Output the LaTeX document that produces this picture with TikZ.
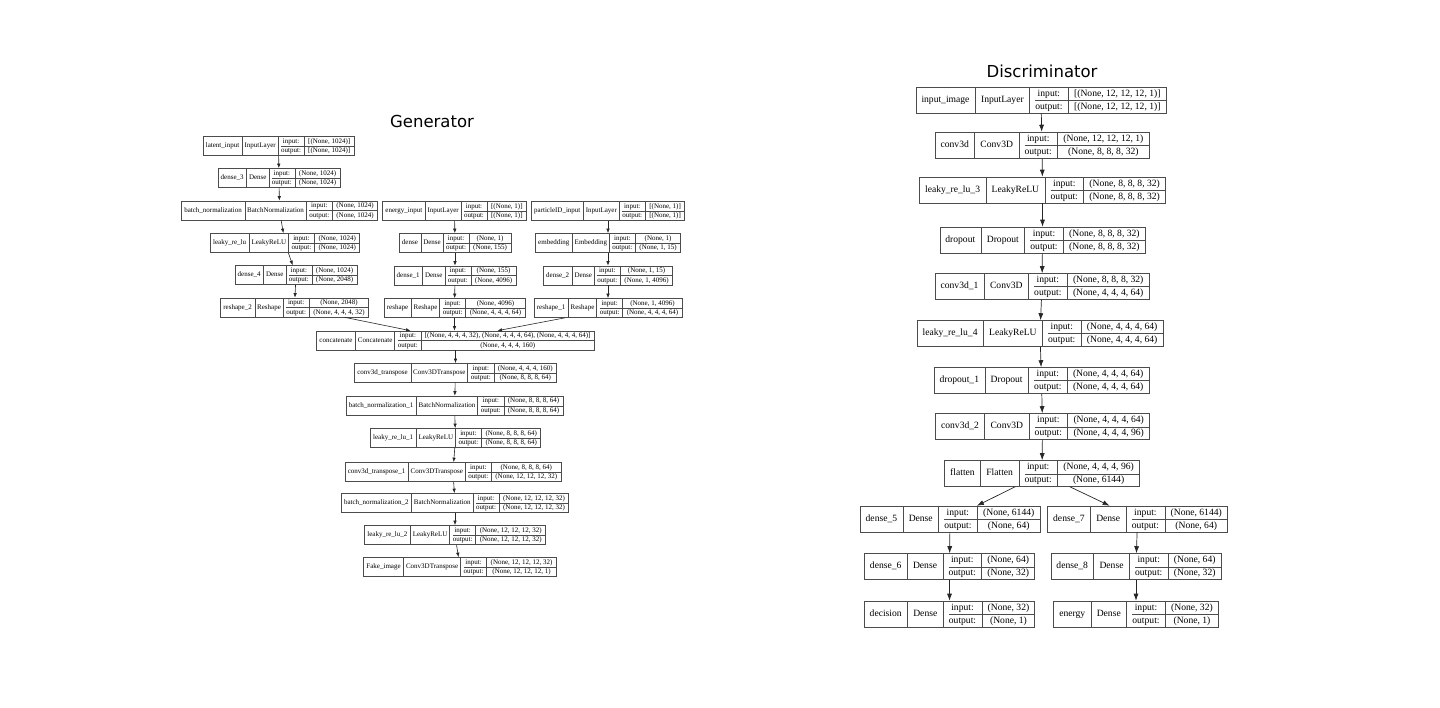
\documentclass[tikz,border=0pt]{standalone}
\usepackage{fontspec}
\setmainfont{Liberation Serif}
\newfontfamily\titlefont{DejaVu Sans}
\usepackage{multirow}
\usepackage{colortbl}
\usepackage{tikz}
\usetikzlibrary{arrows.meta}
\usetikzlibrary{calc}

\newlength{\padn}
\newlength{\padc}
\newlength{\padi}
\newlength{\pads}
% one keras layer: name | class | input:/output: | shapes
\newcommand{\layerbox}[4]{%
  \begin{tabular}{@{\hspace{\padn}}c@{\hspace{\padn}}|@{\hspace{\padc}}c@{\hspace{\padc}}|@{\hspace{\padi}}c@{\hspace{\padi}}|@{\hspace{\pads}}c@{\hspace{\pads}}}
    \multirow{2}{*}{#1} & \multirow{2}{*}{#2} & input: & #3 \\ \cline{3-4}
    & & output: & #4
  \end{tabular}}
\newcommand{\gsize}{\fontsize{7}{8}\selectfont\setlength{\padn}{2.8pt}\setlength{\padc}{2pt}\setlength{\padi}{2.8pt}\setlength{\pads}{3.8pt}\renewcommand{\arraystretch}{1.19}}
\newcommand{\dsize}{\fontsize{9.6}{11}\selectfont\setlength{\padn}{5.5pt}\setlength{\padc}{5.5pt}\setlength{\padi}{5.5pt}\setlength{\pads}{5.5pt}\renewcommand{\arraystretch}{1.18}}

\tikzset{
  glayer/.style={draw=black!70, line width=0.6pt, inner sep=0pt, font=\gsize},
  dlayer/.style={draw=black!70, line width=0.6pt, inner sep=0pt, font=\dsize},
  garr/.style={-{Latex[length=4.5pt,width=3.5pt]}, draw=black!85, line width=0.6pt},
  darr/.style={-{Latex[length=7pt,width=5pt]}, draw=black!85, line width=0.7pt},
}

\begin{document}
\begin{tikzpicture}[x=1pt, y=-1pt]
        \useasboundingbox (0, 0) rectangle (1440, 708);
        \arrayrulecolor{black!70}
        \setlength{\arrayrulewidth}{0.6pt}
        \node [font=\titlefont\fontsize{16.5}{18}\selectfont] (gtitle) at (432, 121) {Generator};
        \node [font=\titlefont\fontsize{16.5}{18}\selectfont] (dtitle) at (1042, 71) {Discriminator};

        % generator, left column
        \node [glayer] (latentin) at (278.5, 146) {\layerbox{latent\_input}{InputLayer}{[(None, 1024)]}{[(None, 1024)]}};
        \node [glayer] (dense3) at (279, 178) {\layerbox{dense\_3}{Dense}{(None, 1024)}{(None, 1024)}};
        \node [glayer] (bnorm) at (279.5, 210.5) {\layerbox{batch\_normalization}{BatchNormalization}{(None, 1024)}{(None, 1024)}};
        \node [glayer] (lrelu) at (285, 243) {\layerbox{leaky\_re\_lu}{LeakyReLU}{(None, 1024)}{(None, 1024)}};
        \node [glayer] (dense4) at (296, 275) {\layerbox{dense\_4}{Dense}{(None, 1024)}{(None, 2048)}};
        \node [glayer] (reshape2) at (294.5, 307.5) {\layerbox{reshape\_2}{Reshape}{(None, 2048)}{(None, 4, 4, 4, 32)}};
        % generator, energy column
        \node [glayer] (energyin) at (454.5, 211) {\layerbox{energy\_input}{InputLayer}{[(None, 1)]}{[(None, 1)]}};
        \node [glayer] (dense0) at (455, 243) {\layerbox{dense}{Dense}{(None, 1)}{(None, 155)}};
        \node [glayer] (dense1) at (455, 275.5) {\layerbox{dense\_1}{Dense}{(None, 155)}{(None, 4096)}};
        \node [glayer] (reshape0) at (454.5, 308) {\layerbox{reshape}{Reshape}{(None, 4096)}{(None, 4, 4, 4, 64)}};
        % generator, particle column
        \node [glayer] (particlein) at (608, 211) {\layerbox{particleID\_input}{InputLayer}{[(None, 1)]}{[(None, 1)]}};
        \node [glayer] (embed) at (608, 243) {\layerbox{embedding}{Embedding}{(None, 1)}{(None, 1, 15)}};
        \node [glayer] (dense2) at (608, 275.5) {\layerbox{dense\_2}{Dense}{(None, 1, 15)}{(None, 1, 4096)}};
        \node [glayer] (reshape1) at (608, 308) {\layerbox{reshape\_1}{Reshape}{(None, 1, 4096)}{(None, 4, 4, 4, 64)}};
        % generator, trunk
        \node [glayer] (concat) at (455.5, 340.5) {\layerbox{concatenate}{Concatenate}{[(None, 4, 4, 4, 32), (None, 4, 4, 4, 64), (None, 4, 4, 4, 64)]}{(None, 4, 4, 4, 160)}};
        \node [glayer] (convt0) at (455.5, 373) {\layerbox{conv3d\_transpose}{Conv3DTranspose}{(None, 4, 4, 4, 160)}{(None, 8, 8, 8, 64)}};
        \node [glayer] (bnorm1) at (454.5, 405.5) {\layerbox{batch\_normalization\_1}{BatchNormalization}{(None, 8, 8, 8, 64)}{(None, 8, 8, 8, 64)}};
        \node [glayer] (lrelu1) at (455.5, 438) {\layerbox{leaky\_re\_lu\_1}{LeakyReLU}{(None, 8, 8, 8, 64)}{(None, 8, 8, 8, 64)}};
        \node [glayer] (convt1) at (453, 472) {\layerbox{conv3d\_transpose\_1}{Conv3DTranspose}{(None, 8, 8, 8, 64)}{(None, 12, 12, 12, 32)}};
        \node [glayer] (bnorm2) at (455, 503) {\layerbox{batch\_normalization\_2}{BatchNormalization}{(None, 12, 12, 12, 32)}{(None, 12, 12, 12, 32)}};
        \node [glayer] (lrelu2) at (455, 535) {\layerbox{leaky\_re\_lu\_2}{LeakyReLU}{(None, 12, 12, 12, 32)}{(None, 12, 12, 12, 32)}};
        \node [glayer] (fake) at (460, 567) {\layerbox{Fake\_image}{Conv3DTranspose}{(None, 12, 12, 12, 32)}{(None, 12, 12, 12, 1)}};

        \draw [garr] (latentin) -- (dense3);
        \draw [garr] (dense3) -- (bnorm);
        \draw [garr] (bnorm) -- (lrelu);
        \draw [garr] (lrelu) -- (dense4);
        \draw [garr] (dense4) -- (reshape2);
        \draw [garr] (energyin) -- (dense0);
        \draw [garr] (dense0) -- (dense1);
        \draw [garr] (dense1) -- (reshape0);
        \draw [garr] (particlein) -- (embed);
        \draw [garr] (embed) -- (dense2);
        \draw [garr] (dense2) -- (reshape1);
        \draw [garr] ([xshift=50pt]reshape2.south) -- ([xshift=-45pt]concat.north);
        \draw [garr] (reshape0) -- (reshape0 |- concat.north);
        \draw [garr] ([xshift=-43pt]reshape1.south) -- ([xshift=42pt]concat.north);
        \draw [garr] (concat) -- (convt0);
        \draw [garr] (convt0) -- (bnorm1);
        \draw [garr] (bnorm1) -- (lrelu1);
        \draw [garr] (lrelu1) -- (convt1);
        \draw [garr] (convt1) -- (bnorm2);
        \draw [garr] (bnorm2) -- (lrelu2);
        \draw [garr] (lrelu2) -- (fake);

        % discriminator
        \node [dlayer] (image) at (1041, 100) {\layerbox{input\_image}{InputLayer}{[(None, 12, 12, 12, 1)]}{[(None, 12, 12, 12, 1)]}};
        \node [dlayer] (conv0) at (1042, 145) {\layerbox{conv3d}{Conv3D}{(None, 12, 12, 12, 1)}{(None, 8, 8, 8, 32)}};
        \node [dlayer] (lrelu3) at (1042.5, 190) {\layerbox{leaky\_re\_lu\_3}{LeakyReLU}{(None, 8, 8, 8, 32)}{(None, 8, 8, 8, 32)}};
        \node [dlayer] (drop0) at (1042.5, 240) {\layerbox{dropout}{Dropout}{(None, 8, 8, 8, 32)}{(None, 8, 8, 8, 32)}};
        \node [dlayer] (conv1) at (1042, 286.5) {\layerbox{conv3d\_1}{Conv3D}{(None, 8, 8, 8, 32)}{(None, 4, 4, 4, 64)}};
        \node [dlayer] (lrelu4) at (1040, 333.5) {\layerbox{leaky\_re\_lu\_4}{LeakyReLU}{(None, 4, 4, 4, 64)}{(None, 4, 4, 4, 64)}};
        \node [dlayer] (drop1) at (1041.5, 380.5) {\layerbox{dropout\_1}{Dropout}{(None, 4, 4, 4, 64)}{(None, 4, 4, 4, 64)}};
        \node [dlayer] (conv2) at (1042.5, 426.5) {\layerbox{conv3d\_2}{Conv3D}{(None, 4, 4, 4, 64)}{(None, 4, 4, 4, 96)}};
        \node [dlayer] (flat) at (1042, 473.5) {\layerbox{flatten}{Flatten}{(None, 4, 4, 4, 96)}{(None, 6144)}};
        \node [dlayer] (dense5) at (950, 519) {\layerbox{dense\_5}{Dense}{(None, 6144)}{(None, 64)}};
        \node [dlayer] (dense7) at (1137.5, 519) {\layerbox{dense\_7}{Dense}{(None, 6144)}{(None, 64)}};
        \node [dlayer] (dense6) at (949.5, 566.5) {\layerbox{dense\_6}{Dense}{(None, 64)}{(None, 32)}};
        \node [dlayer] (dense8) at (1136, 566.5) {\layerbox{dense\_8}{Dense}{(None, 64)}{(None, 32)}};
        \node [dlayer] (decision) at (949.5, 614) {\layerbox{decision}{Dense}{(None, 32)}{(None, 1)}};
        \node [dlayer] (energy) at (1136, 614) {\layerbox{energy}{Dense}{(None, 32)}{(None, 1)}};

        \draw [darr] (image) -- (conv0);
        \draw [darr] (conv0) -- (lrelu3);
        \draw [darr] (lrelu3) -- (drop0);
        \draw [darr] (drop0) -- (conv1);
        \draw [darr] (conv1) -- (lrelu4);
        \draw [darr] (lrelu4) -- (drop1);
        \draw [darr] (drop1) -- (conv2);
        \draw [darr] (conv2) -- (flat);
        \draw [darr] (flat) -- (dense5);
        \draw [darr] (flat) -- (dense7);
        \draw [darr] (dense5) -- (dense6);
        \draw [darr] (dense6) -- (decision);
        \draw [darr] (dense7) -- (dense8);
        \draw [darr] (dense8) -- (energy);
    \end{tikzpicture}
\end{document}
